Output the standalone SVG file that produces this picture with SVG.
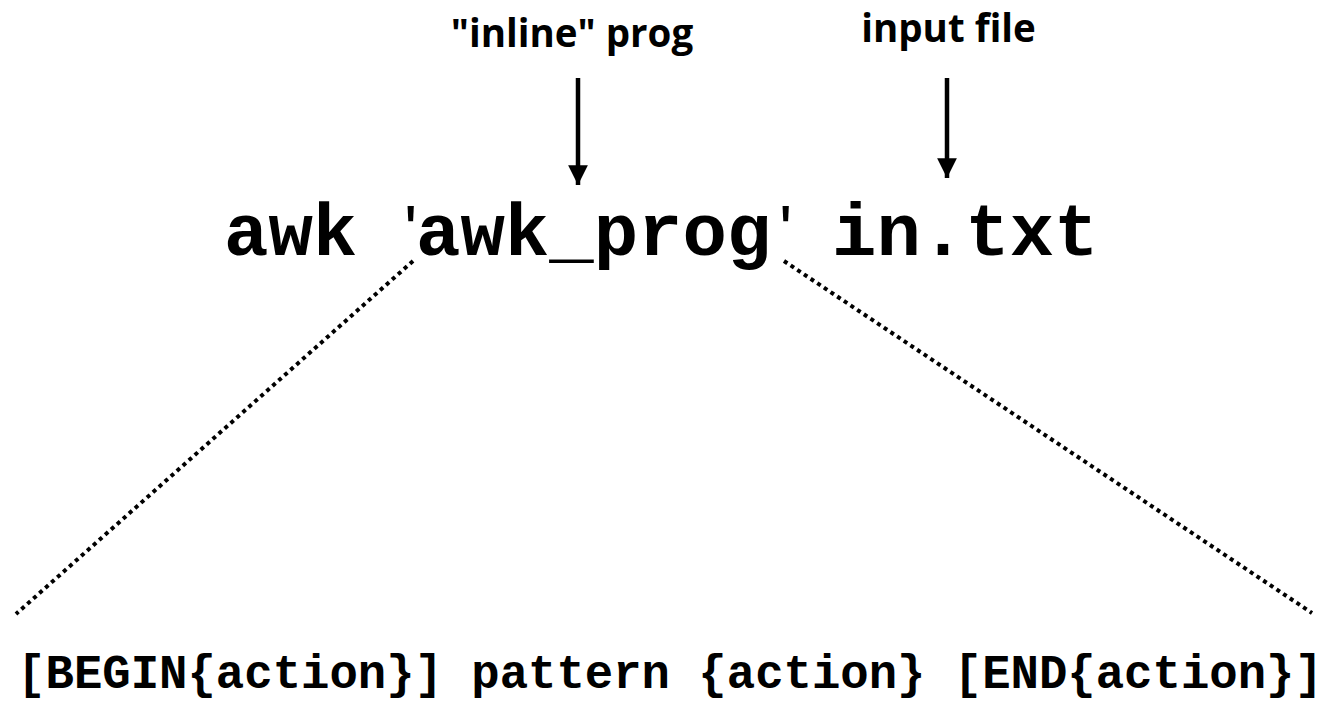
<svg xmlns="http://www.w3.org/2000/svg" width="1330" height="706" viewBox="0 0 1330 706">
  <style>
    .label { font-family: "Open Sans", "Noto Sans", "Liberation Sans", sans-serif; font-weight: 700; font-size: 38.5px; fill: #000; text-anchor: middle; }
    .code { font-family: "Liberation Mono", "Courier New", monospace; font-weight: 700; fill: #000; }
    .cmd { font-size: 74px; }
    .tick { font-family: "Liberation Sans", Arial, sans-serif; font-weight: 400; font-size: 70px; fill: #000; }
    .syntax { font-size: 47.3px; text-anchor: middle; }
    .pointer { stroke: #000; stroke-width: 4.5; fill: none; }
    .dotted { stroke: #000; stroke-width: 4; stroke-dasharray: 4 4; fill: none; }
  </style>
  <defs>
    <marker id="head" viewBox="0 0 10 10" refX="10" refY="5" markerWidth="4.6" markerHeight="4.4" orient="auto" markerUnits="strokeWidth">
      <path d="M0,0 L10,5 L0,10 z" fill="#000"/>
    </marker>
  </defs>

  <!-- callout labels -->
  <g id="label-inline">
    <text class="label" x="572" y="47">"inline" prog</text>
  </g>
  <g id="label-input">
    <text class="label" x="948.5" y="42">input file</text>
  </g>

  <!-- command line -->
  <g id="command">
    <text class="code cmd" x="224" y="255">awk</text>
    <text class="tick" x="404" y="255">'</text>
    <text class="code cmd" x="416" y="255">awk_prog</text>
    <text class="tick" x="779" y="255">'</text>
    <text class="code cmd" x="832" y="255">in.txt</text>
  </g>

  <!-- program structure -->
  <g id="syntax">
    <text class="code syntax" x="670" y="688">[BEGIN{action}] pattern {action} [END{action}]</text>
  </g>

  <g id="connectors">
    <line class="pointer" x1="578" y1="78" x2="578" y2="185" marker-end="url(#head)"/>
    <line class="pointer" x1="947" y1="78" x2="947" y2="178" marker-end="url(#head)"/>
    <line class="dotted" x1="413" y1="261" x2="16" y2="614"/>
    <line class="dotted" x1="784" y1="261" x2="1312" y2="613"/>
  </g>
</svg>
